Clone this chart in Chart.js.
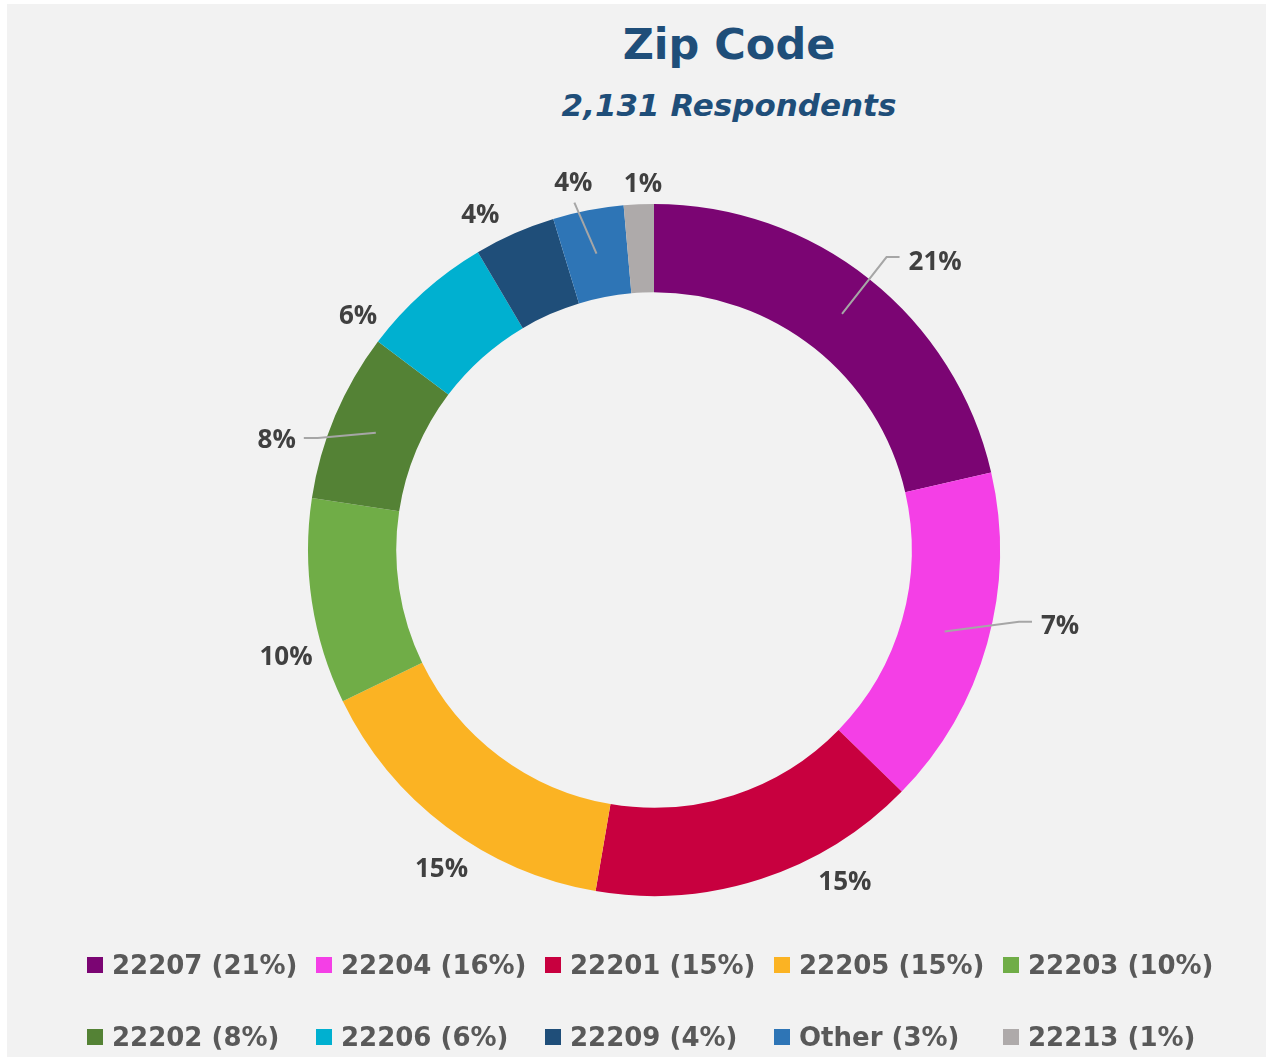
<!DOCTYPE html>
<html>
<head>
<meta charset="utf-8">
<script src="https://cdn.jsdelivr.net/npm/chart.js@4/dist/chart.umd.min.js"></script>
<style>
html,body{margin:0;padding:0;background:#fff}
#page{position:absolute;left:7px;top:4px;width:1259px;height:1053px;background:#f2f2f2;overflow:hidden}
.title{position:absolute;left:722px;transform:translateX(-50%);white-space:nowrap;color:#1f4e79;font-family:"DejaVu Sans",sans-serif;font-weight:bold}
#t1{top:19px;font-size:43px;line-height:43px}
#t2{top:86px;font-size:31px;line-height:31px;font-style:italic}
#wrap{position:absolute;left:-7px;top:136px;width:1266px;height:820px}
#legend{position:absolute;left:80px;top:933px;display:grid;grid-template-columns:repeat(5,229px);grid-auto-rows:72px;font-family:"DejaVu Sans",sans-serif;font-weight:bold;font-size:26px;color:#595959}
.item{display:flex;align-items:center;height:56px;white-space:nowrap}
.box{width:16px;height:16px;margin-right:9px;flex:none}
</style>
</head>
<body>
<div id="page">
<div class="title" id="t1">Zip Code</div>
<div class="title" id="t2">2,131 Respondents</div>
<div id="wrap"><canvas id="zipChart"></canvas></div>
<div id="legend"></div>
</div>
<script>
// zip codes, share of respondents (%)
const zips = ["22207","22204","22201","22205","22203","22202","22206","22209","Other","22213"]
const shares = [21.4, 15.9, 15.4, 15.1, 9.6, 7.9, 6.2, 3.8, 3.3, 1.4]
const legendPct = ["21%","16%","15%","15%","10%","8%","6%","4%","3%","1%"]
// labels as printed on the ring
const ringLabels = ["21%","7%","15%","15%","10%","8%","6%","4%","4%","1%"]
const colors = ["#7b0573","#f43fe6","#c8003f","#fbb323","#70ad47","#548235","#00b0d0","#1f4e79","#2e75b6","#aeaaaa"]

/* label placement: angle shift from slice middle (deg), radius factor, leader line */
const labelPlace = [
[5.7,1.165,"right"],
[-5.1,1.194,"right"],
[-11.9,1.107,null],
[-3.2,1.107,null],
[-7.5,1.107,null],
[-6.6,1.136,"left"],
[-9.8,1.092,null],
[-3.6,1.092,null],
[-1.4,1.087,"up"],
[0.8,1.06,null]
]

const ringLabelPlugin = {
id:"ringLabels",
afterDatasetsDraw(chart){
const ctx = chart.ctx
const arcs = chart.getDatasetMeta(0).data
ctx.save()
ctx.font = "bold 26px 'Open Sans', sans-serif"
ctx.textAlign = "center"
ctx.textBaseline = "middle"
arcs.forEach((arc,i)=>{
const p = arc.getProps(["x","y","startAngle","endAngle","innerRadius","outerRadius"])
const mid = (p.startAngle + p.endAngle) / 2
const a = mid + labelPlace[i][0] * Math.PI / 180
const r = p.outerRadius * labelPlace[i][1]
const lx = p.x + Math.cos(a) * r
const ly = p.y + Math.sin(a) * r
const w = ctx.measureText(ringLabels[i]).width
const kind = labelPlace[i][2]
if(kind){
const rm = (p.innerRadius + p.outerRadius) / 2
const sx = p.x + Math.cos(mid) * rm
const sy = p.y + Math.sin(mid) * rm
ctx.strokeStyle = "#a6a6a6"
ctx.lineWidth = 2
ctx.beginPath()
ctx.moveTo(sx,sy)
if(kind === "right"){
ctx.lineTo(lx - w/2 - 22, ly - 4)
ctx.lineTo(lx - w/2 - 9, ly - 4)
}else if(kind === "left"){
ctx.lineTo(lx + w/2 + 22, ly - 2)
ctx.lineTo(lx + w/2 + 8, ly - 2)
}else{
ctx.lineTo(lx + 1, ly + 20)
}
ctx.stroke()
}
ctx.fillStyle = "#404040"
ctx.fillText(ringLabels[i], lx, ly + 1)
})
ctx.restore()
}
}

const ctx = document.getElementById("zipChart").getContext("2d")

const zipChart = new Chart(ctx,{
type:"doughnut",
data:{
labels:zips,
datasets:[{
data:shares,
backgroundColor:colors,
borderWidth:0
}]
},
options:{
responsive:true,
maintainAspectRatio:false,
animation:false,
cutout:"74.5%",
layout:{padding:{left:42,right:0,top:64,bottom:64}},
plugins:{
legend:{display:false},
tooltip:{enabled:false}
}
},
plugins:[ringLabelPlugin]
})

/* legend in html, built from the chart's own legend items */
const legendBox = document.getElementById("legend")
zipChart.options.plugins.legend.labels.generateLabels(zipChart).forEach((item,i)=>{
const div = document.createElement("div")
div.className = "item"
div.innerHTML = `<span class="box" style="background:${item.fillStyle}"></span>${item.text} (${legendPct[i]})`
legendBox.appendChild(div)
})
</script>
</body>
</html>
